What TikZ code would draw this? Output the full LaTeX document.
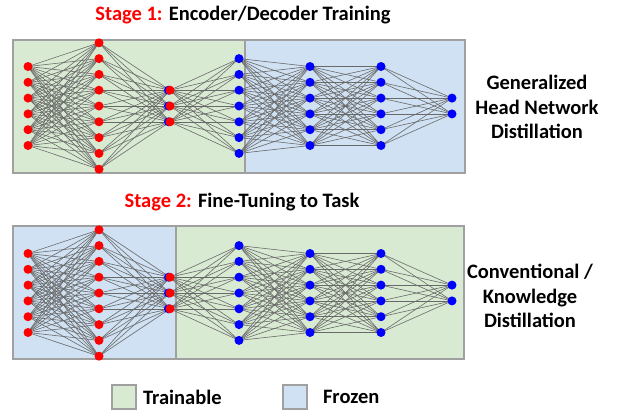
\documentclass[tikz,border=0pt]{standalone}
\usepackage{fontspec}
\setmainfont{Carlito}
\usetikzlibrary{positioning}
\definecolor{trainGreen}{RGB}{217,234,211}
\definecolor{frozenBlue}{RGB}{207,225,242}
\definecolor{boxGray}{RGB}{160,160,160}
\definecolor{wireGray}{RGB}{105,105,105}
\pgfdeclarelayer{bg}
\pgfdeclarelayer{wires}
\pgfsetlayers{bg,wires,main}
\begin{document}
\begin{tikzpicture}[
                            x=1pt, y=-1pt,
                            neuron/.style={circle, inner sep=0pt, minimum size=9pt},
                            wire/.style={draw=wireGray, line width=0.6pt},
                            panel/.style={draw=boxGray, line width=1.1pt},
                            legbox/.style={draw=boxGray, line width=1.1pt, minimum size=24pt, inner sep=0pt},
                            title/.style={font=\bfseries\fontsize{20.5}{24}\selectfont},
                            side/.style={font=\bfseries\fontsize{20.5}{24.5}\selectfont, align=center}
                        ]
                        \useasboundingbox (0,0) rectangle (625,416);
                        % Neurons (a = stage 1, b = stage 2)
                        \foreach \p/\yc in {a/106, b/293} {
                            \foreach \l/\x/\n/\c in {1/28/6/red, 2/99/9/red, 3/170/3/red, 4/239/7/blue, 5/310/6/blue, 6/381/6/blue, 7/452/2/blue} {
                                \foreach \i in {1,...,\n} {
                                    \ifnum\l=3
                                        \node [neuron, fill=blue] (\p3b-\i) at (\x-1.5, {\yc+(\i-(\n+1)/2)*15.8}) {};
                                    \fi
                                    \node [neuron, fill=\c] (\p\l-\i) at (\x, {\yc+(\i-(\n+1)/2)*15.8}) {};
                                }
                            }
                        }
                        % Connections
                        \begin{pgfonlayer}{wires}
                            \foreach \p in {a,b} {
                                \foreach \l/\m/\n/\k in {1/2/6/9, 2/3/9/3, 3/4/3/7, 4/5/7/6, 5/6/6/6, 6/7/6/2} {
                                    \foreach \i in {1,...,\n} {
                                        \foreach \j in {1,...,\k} {
                                            \draw [wire] (\p\l-\i.center) -- (\p\m-\j.center);
                                        }
                                    }
                                }
                            }
                        \end{pgfonlayer}
                        % Panels
                        \begin{pgfonlayer}{bg}
                            \fill [trainGreen] (13,40) rectangle (245,173);
                            \fill [frozenBlue] (245,40) rectangle (465,173);
                            \draw [panel] (13,40) rectangle (465,173);
                            \draw [panel] (245,40) -- (245,173);
                            \fill [frozenBlue] (13,226) rectangle (176,359);
                            \fill [trainGreen] (176,226) rectangle (464,359);
                            \draw [panel] (13,226) rectangle (464,359);
                            \draw [panel] (176,226) -- (176,359);
                        \end{pgfonlayer}
                        % Labels
                        \node [title] (stage1) at (243,15) {\textcolor{red}{Stage 1:} Encoder/Decoder Training};
                        \node [title] (stage2) at (242,202) {\textcolor{red}{Stage 2:} Fine-Tuning to Task};
                        \node [side] (ghnd) at (537,107) {Generalized\\Head Network\\Distillation};
                        \node [side] (ckd) at (530,296) {Conventional /\\Knowledge\\Distillation};
                        % Legend
                        \node [legbox, fill=trainGreen] (trainKey) at (124,397) {};
                        \node [title, right=3pt of trainKey] (trainText) {Trainable};
                        \node [legbox, fill=frozenBlue] (frozenKey) at (295,397) {};
                        \node [title, right=12pt of frozenKey] (frozenText) {Frozen};
                    \end{tikzpicture}
\end{document}
